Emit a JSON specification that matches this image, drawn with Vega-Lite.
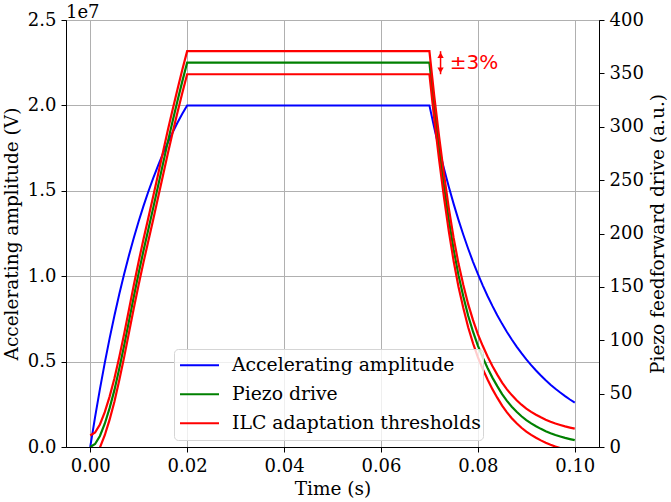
{
  "$schema": "https://vega.github.io/schema/vega-lite/v6.json",
  "description": "Accelerating amplitude and piezo feedforward drive with ILC thresholds",
  "width": 533,
  "height": 427,
  "autosize": {"type": "none"},
  "padding": {"left": 66, "top": 20, "right": 72, "bottom": 55},
  "background": "white",
  "title": {
    "text": "1e7",
    "anchor": "start",
    "frame": "group",
    "font": "DejaVu Serif",
    "fontSize": 18,
    "fontWeight": "normal",
    "color": "black",
    "offset": -11
  },
  "data": {
    "values": [
      {"t": 0, "s": "amp", "v": 0},
      {"t": 0.001, "s": "amp", "v": 1751600},
      {"t": 0.002, "s": "amp", "v": 3390400},
      {"t": 0.003, "s": "amp", "v": 4923400},
      {"t": 0.004, "s": "amp", "v": 6357400},
      {"t": 0.005, "s": "amp", "v": 7699000},
      {"t": 0.006, "s": "amp", "v": 8954000},
      {"t": 0.007, "s": "amp", "v": 10128200},
      {"t": 0.008, "s": "amp", "v": 11226600},
      {"t": 0.009, "s": "amp", "v": 12254400},
      {"t": 0.010, "s": "amp", "v": 13215600},
      {"t": 0.011, "s": "amp", "v": 14114800},
      {"t": 0.012, "s": "amp", "v": 14956200},
      {"t": 0.013, "s": "amp", "v": 15743200},
      {"t": 0.014, "s": "amp", "v": 16479600},
      {"t": 0.015, "s": "amp", "v": 17168400},
      {"t": 0.016, "s": "amp", "v": 17812800},
      {"t": 0.017, "s": "amp", "v": 18415600},
      {"t": 0.018, "s": "amp", "v": 18979600},
      {"t": 0.019, "s": "amp", "v": 19507400},
      {"t": 0.020, "s": "amp", "v": 20000000},
      {"t": 0.070, "s": "amp", "v": 20000000},
      {"t": 0.071, "s": "amp", "v": 18685000},
      {"t": 0.072, "s": "amp", "v": 17456000},
      {"t": 0.073, "s": "amp", "v": 16308000},
      {"t": 0.074, "s": "amp", "v": 15236000},
      {"t": 0.075, "s": "amp", "v": 14234000},
      {"t": 0.076, "s": "amp", "v": 13297000},
      {"t": 0.077, "s": "amp", "v": 12423000},
      {"t": 0.078, "s": "amp", "v": 11606000},
      {"t": 0.079, "s": "amp", "v": 10843000},
      {"t": 0.080, "s": "amp", "v": 10130000},
      {"t": 0.081, "s": "amp", "v": 9464000},
      {"t": 0.082, "s": "amp", "v": 8841000},
      {"t": 0.083, "s": "amp", "v": 8260000},
      {"t": 0.084, "s": "amp", "v": 7716000},
      {"t": 0.085, "s": "amp", "v": 7209000},
      {"t": 0.086, "s": "amp", "v": 6735000},
      {"t": 0.087, "s": "amp", "v": 6292000},
      {"t": 0.088, "s": "amp", "v": 5878000},
      {"t": 0.089, "s": "amp", "v": 5492000},
      {"t": 0.090, "s": "amp", "v": 5130000},
      {"t": 0.091, "s": "amp", "v": 4793000},
      {"t": 0.092, "s": "amp", "v": 4478000},
      {"t": 0.093, "s": "amp", "v": 4183000},
      {"t": 0.094, "s": "amp", "v": 3908000},
      {"t": 0.095, "s": "amp", "v": 3651000},
      {"t": 0.096, "s": "amp", "v": 3411000},
      {"t": 0.097, "s": "amp", "v": 3187000},
      {"t": 0.098, "s": "amp", "v": 2977000},
      {"t": 0.099, "s": "amp", "v": 2781000},
      {"t": 0.100, "s": "amp", "v": 2598000},

      {"t": 0, "s": "piezo", "v": 0},
      {"t": 0.001, "s": "piezo", "v": 2.8},
      {"t": 0.002, "s": "piezo", "v": 10.3},
      {"t": 0.003, "s": "piezo", "v": 21.8},
      {"t": 0.004, "s": "piezo", "v": 36.4},
      {"t": 0.005, "s": "piezo", "v": 53.5},
      {"t": 0.006, "s": "piezo", "v": 73.5},
      {"t": 0.007, "s": "piezo", "v": 95},
      {"t": 0.008, "s": "piezo", "v": 118},
      {"t": 0.009, "s": "piezo", "v": 141},
      {"t": 0.010, "s": "piezo", "v": 163},
      {"t": 0.011, "s": "piezo", "v": 184},
      {"t": 0.012, "s": "piezo", "v": 204},
      {"t": 0.013, "s": "piezo", "v": 224},
      {"t": 0.014, "s": "piezo", "v": 244.5},
      {"t": 0.015, "s": "piezo", "v": 265},
      {"t": 0.016, "s": "piezo", "v": 285.6},
      {"t": 0.017, "s": "piezo", "v": 305.2},
      {"t": 0.018, "s": "piezo", "v": 324.2},
      {"t": 0.019, "s": "piezo", "v": 342.5},
      {"t": 0.020, "s": "piezo", "v": 360},
      {"t": 0.070, "s": "piezo", "v": 360},
      {"t": 0.071, "s": "piezo", "v": 318},
      {"t": 0.072, "s": "piezo", "v": 280},
      {"t": 0.073, "s": "piezo", "v": 245},
      {"t": 0.074, "s": "piezo", "v": 213},
      {"t": 0.075, "s": "piezo", "v": 185},
      {"t": 0.076, "s": "piezo", "v": 161},
      {"t": 0.077, "s": "piezo", "v": 141},
      {"t": 0.078, "s": "piezo", "v": 123},
      {"t": 0.079, "s": "piezo", "v": 108},
      {"t": 0.080, "s": "piezo", "v": 95},
      {"t": 0.081, "s": "piezo", "v": 84},
      {"t": 0.082, "s": "piezo", "v": 74},
      {"t": 0.083, "s": "piezo", "v": 65},
      {"t": 0.084, "s": "piezo", "v": 57},
      {"t": 0.085, "s": "piezo", "v": 49.5},
      {"t": 0.086, "s": "piezo", "v": 43.2},
      {"t": 0.087, "s": "piezo", "v": 37.8},
      {"t": 0.088, "s": "piezo", "v": 33},
      {"t": 0.089, "s": "piezo", "v": 28.8},
      {"t": 0.090, "s": "piezo", "v": 25.2},
      {"t": 0.091, "s": "piezo", "v": 22.1},
      {"t": 0.092, "s": "piezo", "v": 19.4},
      {"t": 0.093, "s": "piezo", "v": 17},
      {"t": 0.094, "s": "piezo", "v": 14.8},
      {"t": 0.095, "s": "piezo", "v": 12.9},
      {"t": 0.096, "s": "piezo", "v": 11.2},
      {"t": 0.097, "s": "piezo", "v": 9.8},
      {"t": 0.098, "s": "piezo", "v": 8.5},
      {"t": 0.099, "s": "piezo", "v": 7.4},
      {"t": 0.100, "s": "piezo", "v": 6.4},

      {"t": 0, "s": "hi", "v": 10.8},
      {"t": 0.001, "s": "hi", "v": 13.6},
      {"t": 0.002, "s": "hi", "v": 21.1},
      {"t": 0.003, "s": "hi", "v": 32.6},
      {"t": 0.004, "s": "hi", "v": 47.2},
      {"t": 0.005, "s": "hi", "v": 64.3},
      {"t": 0.006, "s": "hi", "v": 84.3},
      {"t": 0.007, "s": "hi", "v": 105.8},
      {"t": 0.008, "s": "hi", "v": 128.8},
      {"t": 0.009, "s": "hi", "v": 151.8},
      {"t": 0.010, "s": "hi", "v": 173.8},
      {"t": 0.011, "s": "hi", "v": 194.8},
      {"t": 0.012, "s": "hi", "v": 214.8},
      {"t": 0.013, "s": "hi", "v": 234.8},
      {"t": 0.014, "s": "hi", "v": 255.3},
      {"t": 0.015, "s": "hi", "v": 275.8},
      {"t": 0.016, "s": "hi", "v": 296.4},
      {"t": 0.017, "s": "hi", "v": 316},
      {"t": 0.018, "s": "hi", "v": 335},
      {"t": 0.019, "s": "hi", "v": 353.3},
      {"t": 0.020, "s": "hi", "v": 370.8},
      {"t": 0.070, "s": "hi", "v": 370.8},
      {"t": 0.071, "s": "hi", "v": 328.8},
      {"t": 0.072, "s": "hi", "v": 290.8},
      {"t": 0.073, "s": "hi", "v": 255.8},
      {"t": 0.074, "s": "hi", "v": 223.8},
      {"t": 0.075, "s": "hi", "v": 195.8},
      {"t": 0.076, "s": "hi", "v": 171.8},
      {"t": 0.077, "s": "hi", "v": 151.8},
      {"t": 0.078, "s": "hi", "v": 133.8},
      {"t": 0.079, "s": "hi", "v": 118.8},
      {"t": 0.080, "s": "hi", "v": 105.8},
      {"t": 0.081, "s": "hi", "v": 94.8},
      {"t": 0.082, "s": "hi", "v": 84.8},
      {"t": 0.083, "s": "hi", "v": 75.8},
      {"t": 0.084, "s": "hi", "v": 67.8},
      {"t": 0.085, "s": "hi", "v": 60.3},
      {"t": 0.086, "s": "hi", "v": 54},
      {"t": 0.087, "s": "hi", "v": 48.6},
      {"t": 0.088, "s": "hi", "v": 43.8},
      {"t": 0.089, "s": "hi", "v": 39.6},
      {"t": 0.090, "s": "hi", "v": 36},
      {"t": 0.091, "s": "hi", "v": 32.9},
      {"t": 0.092, "s": "hi", "v": 30.2},
      {"t": 0.093, "s": "hi", "v": 27.8},
      {"t": 0.094, "s": "hi", "v": 25.6},
      {"t": 0.095, "s": "hi", "v": 23.7},
      {"t": 0.096, "s": "hi", "v": 22},
      {"t": 0.097, "s": "hi", "v": 20.6},
      {"t": 0.098, "s": "hi", "v": 19.3},
      {"t": 0.099, "s": "hi", "v": 18.2},
      {"t": 0.100, "s": "hi", "v": 17.2},

      {"t": 0, "s": "lo", "v": -10.8},
      {"t": 0.001, "s": "lo", "v": -8},
      {"t": 0.002, "s": "lo", "v": -0.5},
      {"t": 0.003, "s": "lo", "v": 11},
      {"t": 0.004, "s": "lo", "v": 25.6},
      {"t": 0.005, "s": "lo", "v": 42.7},
      {"t": 0.006, "s": "lo", "v": 62.7},
      {"t": 0.007, "s": "lo", "v": 84.2},
      {"t": 0.008, "s": "lo", "v": 107.2},
      {"t": 0.009, "s": "lo", "v": 130.2},
      {"t": 0.010, "s": "lo", "v": 152.2},
      {"t": 0.011, "s": "lo", "v": 173.2},
      {"t": 0.012, "s": "lo", "v": 193.2},
      {"t": 0.013, "s": "lo", "v": 213.2},
      {"t": 0.014, "s": "lo", "v": 233.7},
      {"t": 0.015, "s": "lo", "v": 254.2},
      {"t": 0.016, "s": "lo", "v": 274.8},
      {"t": 0.017, "s": "lo", "v": 294.4},
      {"t": 0.018, "s": "lo", "v": 313.4},
      {"t": 0.019, "s": "lo", "v": 331.7},
      {"t": 0.020, "s": "lo", "v": 349.2},
      {"t": 0.070, "s": "lo", "v": 349.2},
      {"t": 0.071, "s": "lo", "v": 307.2},
      {"t": 0.072, "s": "lo", "v": 269.2},
      {"t": 0.073, "s": "lo", "v": 234.2},
      {"t": 0.074, "s": "lo", "v": 202.2},
      {"t": 0.075, "s": "lo", "v": 174.2},
      {"t": 0.076, "s": "lo", "v": 150.2},
      {"t": 0.077, "s": "lo", "v": 130.2},
      {"t": 0.078, "s": "lo", "v": 112.2},
      {"t": 0.079, "s": "lo", "v": 97.2},
      {"t": 0.080, "s": "lo", "v": 84.2},
      {"t": 0.081, "s": "lo", "v": 73.2},
      {"t": 0.082, "s": "lo", "v": 63.2},
      {"t": 0.083, "s": "lo", "v": 54.2},
      {"t": 0.084, "s": "lo", "v": 46.2},
      {"t": 0.085, "s": "lo", "v": 38.7},
      {"t": 0.086, "s": "lo", "v": 32.4},
      {"t": 0.087, "s": "lo", "v": 27},
      {"t": 0.088, "s": "lo", "v": 22.2},
      {"t": 0.089, "s": "lo", "v": 18},
      {"t": 0.090, "s": "lo", "v": 14.4},
      {"t": 0.091, "s": "lo", "v": 11.3},
      {"t": 0.092, "s": "lo", "v": 8.6},
      {"t": 0.093, "s": "lo", "v": 6.2},
      {"t": 0.094, "s": "lo", "v": 4},
      {"t": 0.095, "s": "lo", "v": 2.1},
      {"t": 0.096, "s": "lo", "v": 0.4},
      {"t": 0.097, "s": "lo", "v": -1},
      {"t": 0.098, "s": "lo", "v": -2.3},
      {"t": 0.099, "s": "lo", "v": -3.4},
      {"t": 0.100, "s": "lo", "v": -4.4}
    ]
  },
  "encoding": {
    "x": {
      "field": "t",
      "type": "quantitative",
      "scale": {"domain": [-0.005, 0.105], "nice": false, "zero": false},
      "axis": {
        "title": "Time (s)",
        "values": [0, 0.02, 0.04, 0.06, 0.08, 0.1],
        "format": ".2f",
        "grid": true,
        "titlePadding": 4
      }
    }
  },
  "layer": [
    {
      "transform": [{"filter": "datum.s == 'amp'"}],
      "mark": {"type": "line", "strokeWidth": 2, "clip": true},
      "encoding": {
        "y": {
          "field": "v",
          "type": "quantitative",
          "scale": {"domain": [0, 25000000], "nice": false},
          "axis": {
            "title": "Accelerating amplitude (V)",
            "orient": "left",
            "values": [0, 5000000, 10000000, 15000000, 20000000, 25000000],
            "labelExpr": "format(datum.value / 10000000, '.1f')",
            "grid": true,
            "titlePadding": 6
          }
        },
        "color": {
          "field": "s",
          "type": "nominal",
          "scale": {
            "domain": ["amp", "piezo", "hi", "lo"],
            "range": ["#0000ff", "#008000", "#ff0000", "#ff0000"]
          },
          "legend": {
            "values": ["amp", "piezo", "hi"],
            "labelExpr": "datum.label == 'amp' ? 'Accelerating amplitude' : datum.label == 'piezo' ? 'Piezo drive' : 'ILC adaptation thresholds'",
            "title": null,
            "orient": "none",
            "legendX": 108,
            "legendY": 329,
            "symbolType": "stroke",
            "symbolSize": 1521,
            "symbolStrokeWidth": 2,
            "symbolOffset": 3,
            "clipHeight": 28.3,
            "labelFont": "DejaVu Serif",
            "labelFontSize": 18.8,
            "labelColor": "black",
            "labelLimit": 400,
            "labelOffset": 12,
            "padding": 2,
            "rowPadding": 0,
            "strokeColor": "#d5d5d5",
            "fillColor": "rgba(255,255,255,0.8)",
            "cornerRadius": 4
          }
        }
      }
    },
    {
      "layer": [
        {
          "transform": [{"filter": "datum.s != 'amp'"}],
          "mark": {"type": "line", "strokeWidth": 2.2, "clip": true},
          "encoding": {
            "y": {
              "field": "v",
              "type": "quantitative",
              "scale": {"domain": [0, 400], "nice": false},
              "axis": {
                "title": "Piezo feedforward drive (a.u.)",
                "orient": "right",
                "values": [0, 50, 100, 150, 200, 250, 300, 350, 400],
                "grid": false,
                "titleAngle": 270,
                "titleBaseline": "top",
                "titlePadding": 5
              }
            },
            "color": {"field": "s", "type": "nominal"}
          }
        },
        {
          "data": {"values": [{"t": 0.0723, "lo": 349.2, "hi": 370.8}]},
          "mark": {"type": "rule", "color": "#ff0000", "strokeWidth": 1.5},
          "encoding": {
            "x": {"field": "t", "type": "quantitative"},
            "y": {"field": "lo", "type": "quantitative"},
            "y2": {"field": "hi"}
          }
        },
        {
          "data": {"values": [
            {"t": 0.0723, "v": 367, "shape": "triangle-up"},
            {"t": 0.0723, "v": 353, "shape": "triangle-down"}
          ]},
          "mark": {"type": "point", "filled": true, "color": "#ff0000", "size": 40, "opacity": 1},
          "encoding": {
            "x": {"field": "t", "type": "quantitative"},
            "y": {"field": "v", "type": "quantitative"},
            "shape": {"field": "shape", "type": "nominal", "scale": null, "legend": null}
          }
        },
        {
          "data": {"values": [{"t": 0.0742, "v": 360, "label": "±3%"}]},
          "mark": {
            "type": "text",
            "color": "#ff0000",
            "font": "DejaVu Sans",
            "fontSize": 20,
            "align": "left",
            "baseline": "middle"
          },
          "encoding": {
            "x": {"field": "t", "type": "quantitative"},
            "y": {"field": "v", "type": "quantitative"},
            "text": {"field": "label"}
          }
        }
      ]
    }
  ],
  "resolve": {"scale": {"y": "independent"}},
  "config": {
    "view": {"stroke": "black", "strokeWidth": 1},
    "axis": {
      "domainColor": "black",
      "domainWidth": 1,
      "tickColor": "black",
      "tickSize": 5,
      "tickWidth": 1,
      "gridColor": "#b0b0b0",
      "gridWidth": 1,
      "labelFont": "DejaVu Serif",
      "labelFontSize": 18,
      "labelColor": "black",
      "labelPadding": 5,
      "titleFont": "DejaVu Serif",
      "titleFontSize": 18.5,
      "titleFontWeight": "normal",
      "titleColor": "black"
    }
  }
}
